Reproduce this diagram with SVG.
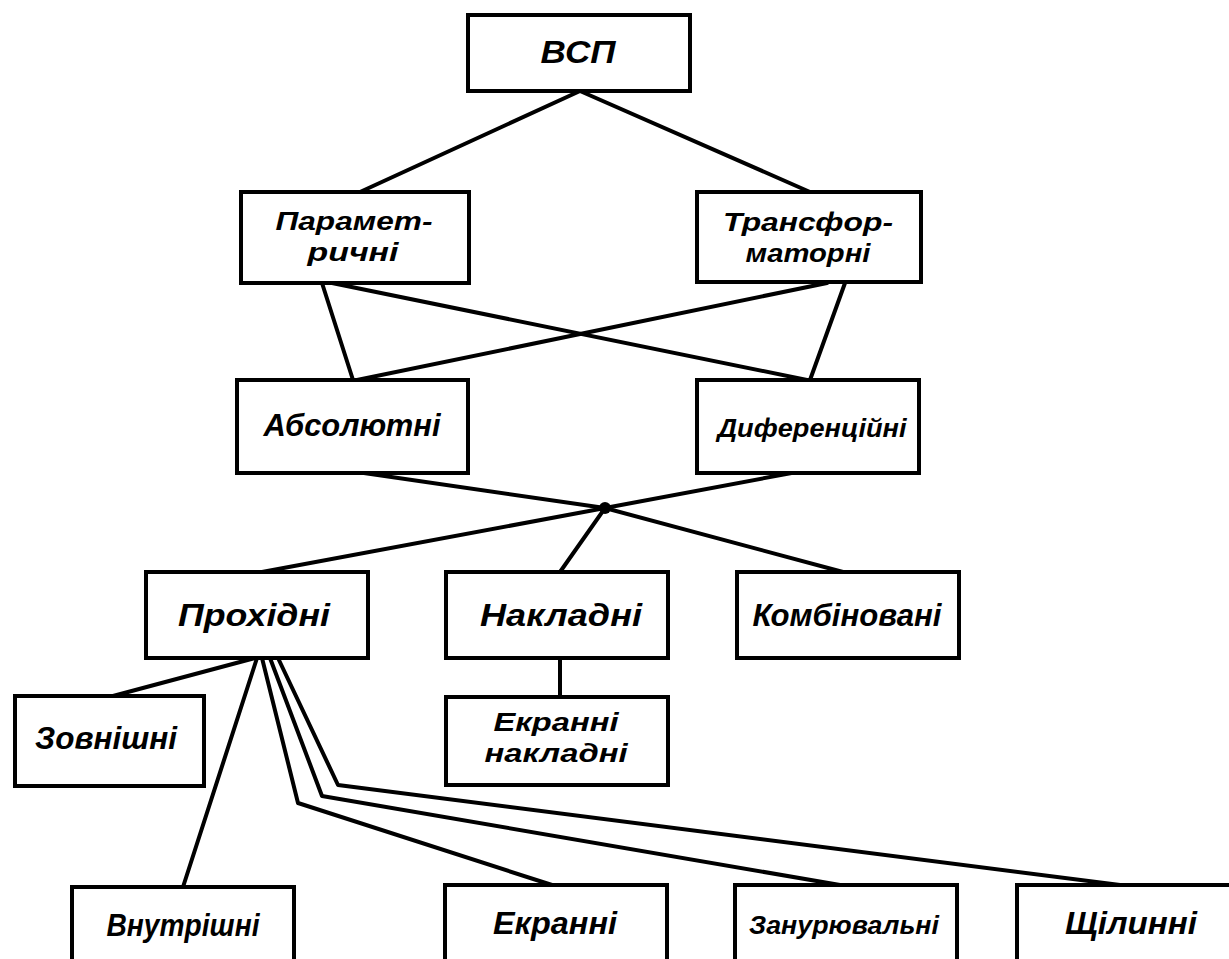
<svg xmlns="http://www.w3.org/2000/svg" width="1229" height="959" viewBox="0 0 1229 959">
<style>
.box{fill:#fff;stroke:#000;stroke-width:4}
.t{font-family:"Liberation Sans",Arial,sans-serif;font-style:italic;font-weight:bold;font-size:31px;fill:#000;text-anchor:middle}
.m{font-size:26px}
.s{font-size:25px}
.c{fill:none;stroke:#000;stroke-width:4;stroke-linejoin:round;stroke-linecap:round}
</style>
<rect width="1229" height="959" fill="#fff"/>
<g id="connectors" class="c">
<path d="M580,91 L360,192"/>
<path d="M580,91 L810,192"/>
<path d="M322,283 L353,380"/>
<path d="M332,283 L807,380"/>
<path d="M827,283 L357,380"/>
<path d="M845,283 L810,380"/>
<path d="M357,472 L605,508"/>
<path d="M797,472 L605,508"/>
<path d="M605,508 L262,572"/>
<path d="M605,508 L560,572"/>
<path d="M605,508 L843,572"/>
<path d="M560,658 L560,697"/>
<path d="M255,658 L113,696"/>
<path d="M257,658 L183,887"/>
<path d="M262,658 L298,803 L552,885"/>
<path d="M270,658 L322,796 L840,885"/>
<path d="M278,658 L338,785 L1120,885"/>
<circle cx="605" cy="508" r="6" fill="#000" stroke="none"/>
</g>
<g id="n-vsp"><rect class="box" x="468" y="15" width="222" height="76"/><text class="t" x="578" y="63" textLength="75" lengthAdjust="spacingAndGlyphs">ВСП</text></g>
<g id="n-param"><rect class="box" x="241" y="192" width="228" height="91"/><text class="t m" x="354" y="230" textLength="157" lengthAdjust="spacingAndGlyphs">Парамет-</text><text class="t m" x="353" y="261" textLength="91" lengthAdjust="spacingAndGlyphs">ричні</text></g>
<g id="n-trans"><rect class="box" x="697" y="192" width="224" height="90"/><text class="t m" x="808" y="231" textLength="170" lengthAdjust="spacingAndGlyphs">Трансфор-</text><text class="t m" x="808" y="262" textLength="125" lengthAdjust="spacingAndGlyphs">маторні</text></g>
<g id="n-abs"><rect class="box" x="237" y="380" width="231" height="93"/><text class="t" x="352" y="436" textLength="177" lengthAdjust="spacingAndGlyphs">Абсолютні</text></g>
<g id="n-dif"><rect class="box" x="697" y="380" width="222" height="93"/><text class="t s" x="812" y="437" textLength="189" lengthAdjust="spacingAndGlyphs">Диференційні</text></g>
<g id="n-prox"><rect class="box" x="146" y="572" width="222" height="86"/><text class="t" x="254" y="626" textLength="152" lengthAdjust="spacingAndGlyphs">Прохідні</text></g>
<g id="n-nakl"><rect class="box" x="446" y="572" width="222" height="86"/><text class="t" x="561" y="626" textLength="162" lengthAdjust="spacingAndGlyphs">Накладні</text></g>
<g id="n-komb"><rect class="box" x="737" y="572" width="222" height="86"/><text class="t" x="847" y="626" textLength="189" lengthAdjust="spacingAndGlyphs">Комбіновані</text></g>
<g id="n-zovn"><rect class="box" x="15" y="696" width="189" height="90"/><text class="t" x="106" y="749" textLength="142" lengthAdjust="spacingAndGlyphs">Зовнішні</text></g>
<g id="n-ekrnakl"><rect class="box" x="446" y="697" width="222" height="88"/><text class="t m" x="556" y="731" textLength="125" lengthAdjust="spacingAndGlyphs">Екранні</text><text class="t m" x="556" y="762" textLength="143" lengthAdjust="spacingAndGlyphs">накладні</text></g>
<g id="n-vnutr"><rect class="box" x="72" y="887" width="222" height="80"/><text class="t" x="183" y="936" textLength="153" lengthAdjust="spacingAndGlyphs">Внутрішні</text></g>
<g id="n-ekr"><rect class="box" x="445" y="885" width="222" height="80"/><text class="t" x="555" y="934" textLength="124" lengthAdjust="spacingAndGlyphs">Екранні</text></g>
<g id="n-zan"><rect class="box" x="735" y="885" width="222" height="80"/><text class="t s" x="844" y="934" textLength="190" lengthAdjust="spacingAndGlyphs">Занурювальні</text></g>
<g id="n-shch"><rect class="box" x="1017" y="885" width="230" height="80"/><text class="t" x="1131" y="934" textLength="132" lengthAdjust="spacingAndGlyphs">Щілинні</text></g>
</svg>
